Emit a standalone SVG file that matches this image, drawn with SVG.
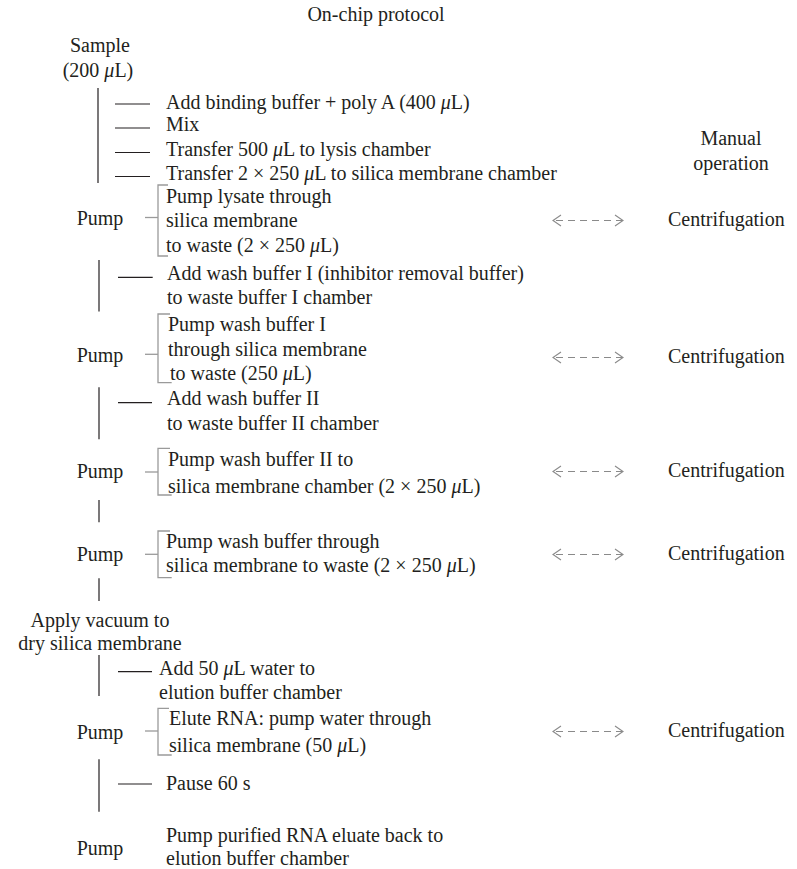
<svg xmlns="http://www.w3.org/2000/svg" width="797" height="869" viewBox="0 0 797 869">
<defs>
<style>
text{font-family:"Liberation Serif","Times New Roman",serif;font-size:20px;fill:#231f20}
.c{text-anchor:middle}
.ln{stroke:#231f20;stroke-width:1.2;fill:none}
.br{stroke:#9a9a9a;stroke-width:1.3;fill:none}
.ar{stroke:#8a8a8a;stroke-width:1.1;fill:none}
.dash{stroke:#8a8a8a;stroke-width:1.1;stroke-dasharray:7 5;fill:none}
</style>
</defs>
<rect width="797" height="869" fill="#fff"/>
<text id="title" class="c" x="376" y="21">On-chip protocol</text>

<g id="sample"><text class="c" x="100" y="52">Sample</text><text class="c" x="98" y="77">(200 <tspan font-style="italic">μ</tspan>L)</text></g>

<g id="step-binding"><text x="166" y="109">Add binding buffer + poly A (400 <tspan font-style="italic">μ</tspan>L)</text></g>
<g id="step-mix"><text x="166" y="131">Mix</text></g>
<g id="step-transfer500"><text x="166" y="156">Transfer 500 <tspan font-style="italic">μ</tspan>L to lysis chamber</text></g>
<g id="step-transfer250"><text x="166" y="180">Transfer 2 × 250 <tspan font-style="italic">μ</tspan>L to silica membrane chamber</text></g>

<g id="manual"><text class="c" x="731" y="145">Manual</text><text class="c" x="731" y="170">operation</text></g>

<g id="pump1"><text class="c" x="100" y="225">Pump</text>
<text x="166" y="202.5">Pump lysate through</text><text x="166" y="227">silica membrane</text><text x="166" y="251.5">to waste (2 × 250 <tspan font-style="italic">μ</tspan>L)</text></g>
<g id="cent1"><text x="668" y="226">Centrifugation</text></g>

<g id="step-wash1"><text x="167" y="280">Add wash buffer I (inhibitor removal buffer)</text><text x="167" y="304">to waste buffer I chamber</text></g>

<g id="pump2"><text class="c" x="100" y="362">Pump</text>
<text x="168" y="330.5">Pump wash buffer I</text><text x="168" y="355.5">through silica membrane</text><text x="170" y="380">to waste (250 <tspan font-style="italic">μ</tspan>L)</text></g>
<g id="cent2"><text x="668" y="363">Centrifugation</text></g>

<g id="step-wash2"><text x="167" y="405">Add wash buffer II</text><text x="167" y="430">to waste buffer II chamber</text></g>

<g id="pump3"><text class="c" x="100" y="478">Pump</text>
<text x="168" y="466">Pump wash buffer II to</text><text x="168" y="493">silica membrane chamber (2 × 250 <tspan font-style="italic">μ</tspan>L)</text></g>
<g id="cent3"><text x="668" y="477">Centrifugation</text></g>

<g id="pump4"><text class="c" x="100" y="561">Pump</text>
<text x="166" y="548">Pump wash buffer through</text><text x="166" y="572">silica membrane to waste (2 × 250 <tspan font-style="italic">μ</tspan>L)</text></g>
<g id="cent4"><text x="668" y="560">Centrifugation</text></g>

<g id="vacuum"><text class="c" x="100" y="627">Apply vacuum to</text><text class="c" x="100" y="650">dry silica membrane</text></g>

<g id="step-water"><text x="159" y="675">Add 50 <tspan font-style="italic">μ</tspan>L water to</text><text x="159" y="699">elution buffer chamber</text></g>

<g id="pump5"><text class="c" x="100" y="739">Pump</text>
<text x="169" y="725">Elute RNA: pump water through</text><text x="169" y="751.5">silica membrane (50 <tspan font-style="italic">μ</tspan>L)</text></g>
<g id="cent5"><text x="668" y="737">Centrifugation</text></g>

<g id="step-pause"><text x="166" y="790">Pause 60 s</text></g>

<g id="pump6"><text class="c" x="100" y="855">Pump</text>
<text x="166" y="842">Pump purified RNA eluate back to</text><text x="166" y="865">elution buffer chamber</text></g>

<g id="connectors">
<line class="ln" x1="98" y1="88" x2="98" y2="183"/>
<line class="ln" x1="115" y1="104" x2="150" y2="104"/>
<line class="ln" x1="115" y1="128" x2="150" y2="128"/>
<line class="ln" x1="115" y1="152.5" x2="150" y2="152.5"/>
<line class="ln" x1="115" y1="176.5" x2="150" y2="176.5"/>

<line class="br" x1="145" y1="217.5" x2="158" y2="217.5"/>
<path class="br" d="M168,185 H158 V256 H168"/>

<line class="ln" x1="99" y1="260" x2="99" y2="311.5"/>
<line class="ln" x1="118" y1="277.3" x2="152.7" y2="277.3"/>

<line class="br" x1="145" y1="354.3" x2="158" y2="354.3"/>
<path class="br" d="M170,314 H158 V382.7 H171.7"/>

<line class="ln" x1="99" y1="387.3" x2="99" y2="439.3"/>
<line class="ln" x1="118" y1="402.7" x2="152" y2="402.7"/>

<line class="br" x1="145" y1="472" x2="158" y2="472"/>
<path class="br" d="M170,448.3 H158 V495 H171.7"/>

<line class="ln" x1="99" y1="500" x2="99" y2="522.3"/>

<line class="br" x1="145" y1="554.3" x2="158" y2="554.3"/>
<path class="br" d="M170,531 H158 V577.7 H171.7"/>

<line class="ln" x1="99" y1="578.3" x2="99" y2="601"/>

<line class="ln" x1="99" y1="655" x2="99" y2="696"/>
<line class="ln" x1="118" y1="671.7" x2="152" y2="671.7"/>

<line class="br" x1="145" y1="731" x2="158" y2="731"/>
<path class="br" d="M169,708.3 H158 V755 H171.7"/>

<line class="ln" x1="99" y1="759.3" x2="99" y2="811.7"/>
<line class="ln" x1="118" y1="784" x2="152" y2="784"/>

<g id="arrow1"><path class="ar" d="M561,215 L553,220.5 L561,226 M615,215 L623,220.5 L615,226"/><line class="dash" x1="556" y1="220.5" x2="622" y2="220.5"/></g>
<g id="arrow2"><path class="ar" d="M561,352 L553,357.5 L561,363 M615,352 L623,357.5 L615,363"/><line class="dash" x1="556" y1="357.5" x2="622" y2="357.5"/></g>
<g id="arrow3"><path class="ar" d="M561,466 L553,471.5 L561,477 M615,466 L623,471.5 L615,477"/><line class="dash" x1="556" y1="471.5" x2="622" y2="471.5"/></g>
<g id="arrow4"><path class="ar" d="M561,549 L553,554.5 L561,560 M615,549 L623,554.5 L615,560"/><line class="dash" x1="556" y1="554.5" x2="622" y2="554.5"/></g>
<g id="arrow5"><path class="ar" d="M561,726 L553,731.5 L561,737 M615,726 L623,731.5 L615,737"/><line class="dash" x1="556" y1="731.5" x2="622" y2="731.5"/></g>
</g>
</svg>
